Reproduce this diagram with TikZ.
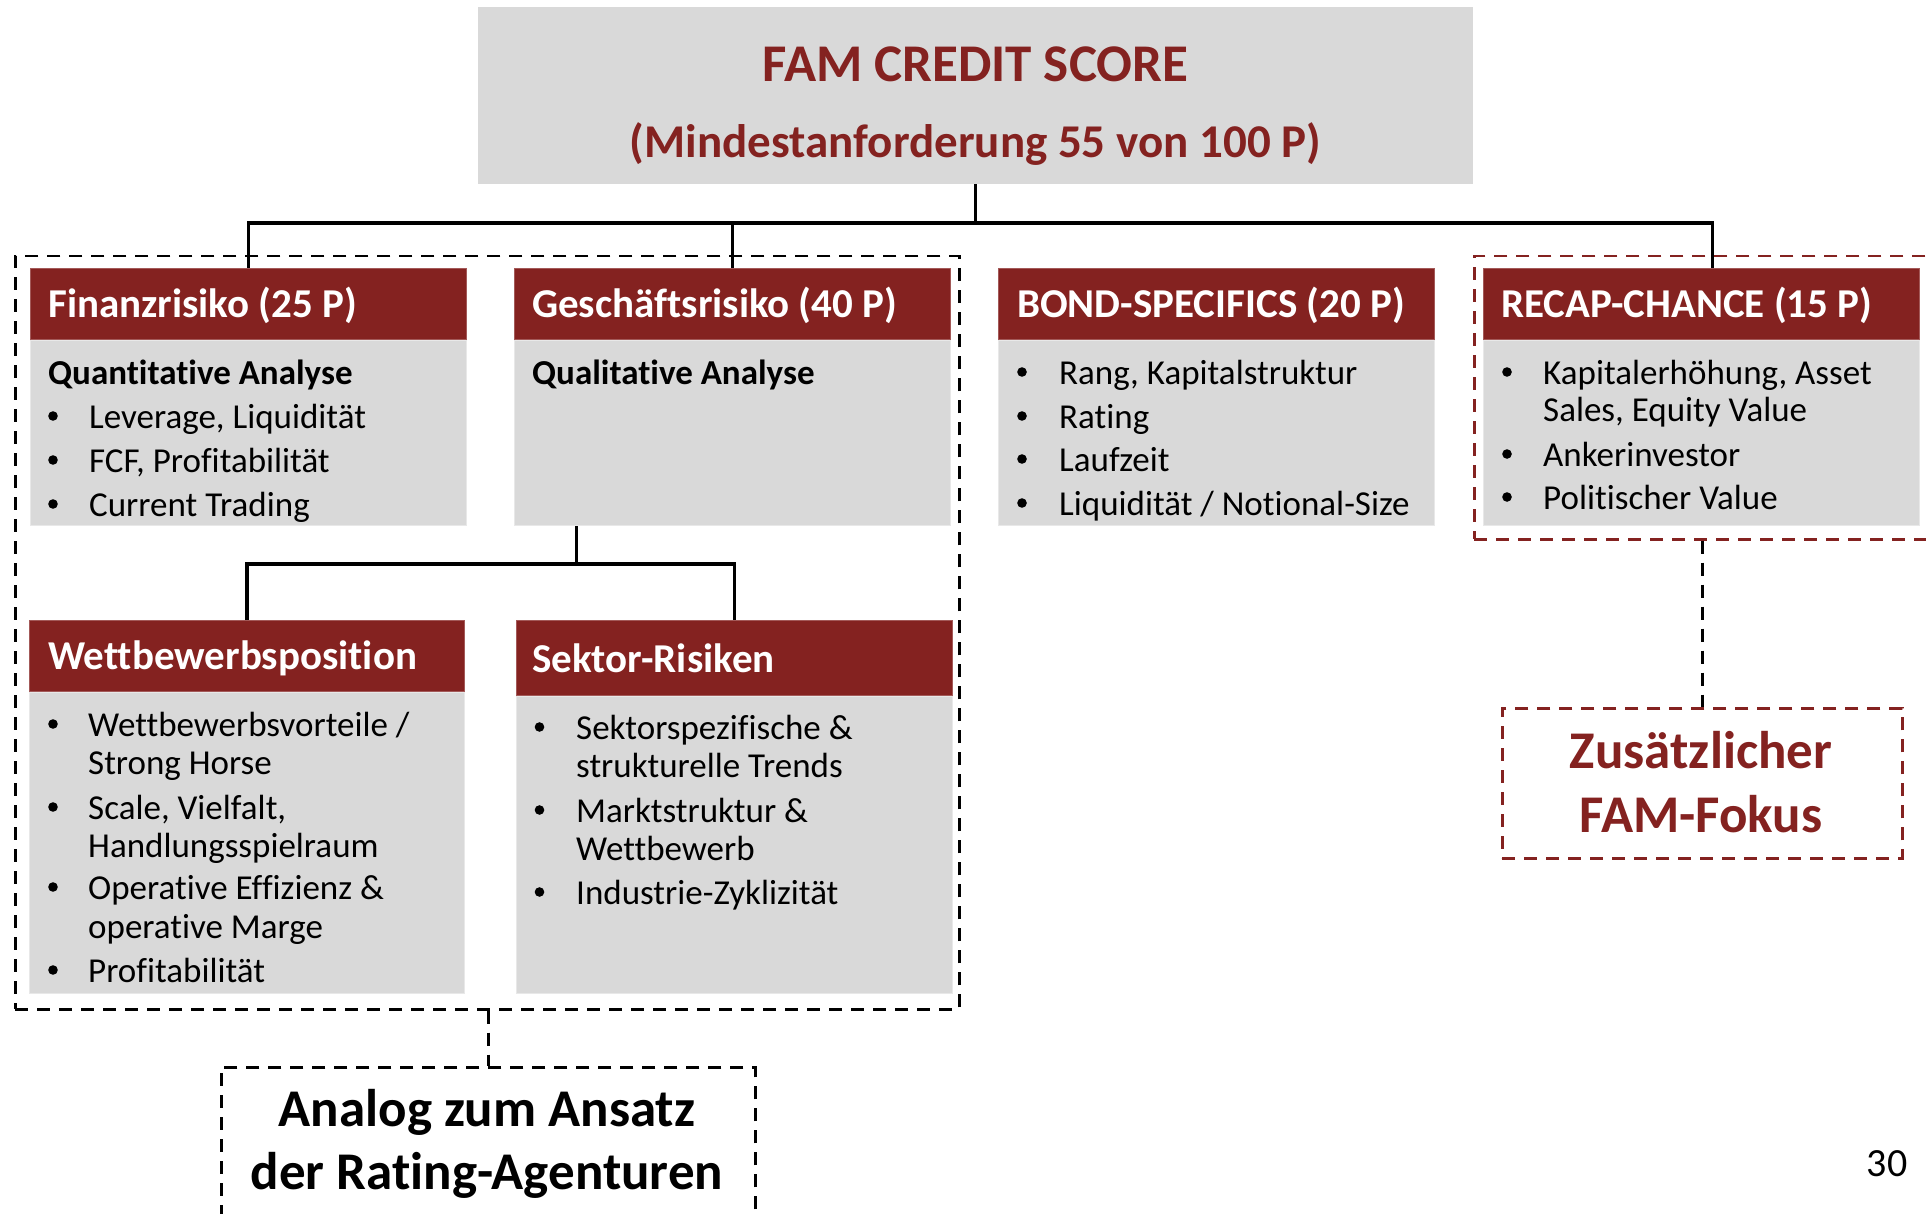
\documentclass[tikz,border=0pt]{standalone}
\usepackage{fontspec}
\setmainfont{Carlito}[Ligatures=NoCommon]
\usetikzlibrary{positioning}

\definecolor{famred}{RGB}{132,34,32}
\definecolor{boxgray}{RGB}{217,217,217}

\tikzset{
  head/.style={fill=famred, draw=famred!75!white, line width=1pt, anchor=north west,
    minimum width=436pt, minimum height=71pt, inner sep=0pt},
  body/.style={fill=boxgray, draw=boxgray!60!white, line width=1pt,
    minimum width=436pt, inner sep=0pt},
  headtxt/.style={anchor=base west, inner sep=0pt, text=white,
    font=\fontsize{41}{49}\selectfont\bfseries},
  item/.style={anchor=base west, inner sep=0pt, font=\fontsize{35}{42}\selectfont},
  big/.style={anchor=base, inner sep=0pt, font=\fontsize{53}{63}\selectfont\bfseries},
  conn/.style={line width=3.5pt},
  grp/.style={draw, dashed, dash pattern=on 13pt off 9pt, line width=2.5pt,
    anchor=north west, inner sep=0pt},
  dashline/.style={dashed, dash pattern=on 13pt off 9pt, line width=2.5pt}
}

\begin{document}
\begin{tikzpicture}[x=1pt,y=-1pt]
\useasboundingbox (0,0) rectangle (1926,1214);
\clip (0,0) rectangle (1926,1214);

% dashed frames behind the boxes
\node[grp, minimum width=944pt, minimum height=753pt] (leftgrp) at (14,255) {};
\node[grp, draw=famred, minimum width=480pt, minimum height=283pt] (recapgrp) at (1473,255) {};

% score box
\node[fill=boxgray, anchor=north west, minimum width=995pt, minimum height=177pt, inner sep=0pt] (title) at (478,7) {};
\node[big, text=famred] (title1) at (975.5,82) {FAM CREDIT SCORE};
\node[big, text=famred, font=\fontsize{47}{56}\selectfont\bfseries] (title2) at (975.5,158) {(Mindestanforderung 55 von 100 P)};

% first row
\node[head] (finH) at (30,268) {};
\node[body, minimum height=185pt, below=0pt of finH] (finB) {};
\node[head] (geschH) at (514,268) {};
\node[body, minimum height=185pt, below=0pt of geschH] (geschB) {};
\node[head] (bondH) at (998,268) {};
\node[body, minimum height=185pt, below=0pt of bondH] (bondB) {};
\node[head] (recapH) at (1483,268) {};
\node[body, minimum height=185pt, below=0pt of recapH] (recapB) {};

% second row
\node[head, minimum width=435pt] (wettH) at (29,620) {};
\node[body, minimum width=435pt, minimum height=301pt, below=0pt of wettH] (wettB) {};
\node[head, minimum height=75pt] (sektorH) at (516,620) {};
\node[body, minimum height=297pt, below=0pt of sektorH] (sektorB) {};

% connectors
\coordinate (bar) at (0,223);
\draw[conn] (title.south) -- (title.south |- bar);
\draw[conn] (finH.north) |- (bar -| title.south) -| ([xshift=11pt]recapH.north);
\draw[conn] (geschH.north) -- (geschH.north |- bar);
\draw[conn] ([xshift=-156pt]geschB.south) -- ++(0,38) coordinate (split);
\draw[conn] (wettH.north) |- (split) -| (sektorH.north);

% headings
\node[headtxt] (finT) at (48,317) {Finanzrisiko (25 P)};
\node[headtxt] (geschT) at (532,317) {Geschäftsrisiko (40 P)};
\node[headtxt] (bondT) at (1017,317) {BOND-SPECIFICS (20 P)};
\node[headtxt] (recapT) at (1501,317) {RECAP-CHANCE (15 P)};
\node[headtxt] (wettT) at (48,669) {Wettbewerbsposition};
\node[headtxt] (sektorT) at (532,672) {Sektor-Risiken};

% lists
\node[item, font=\fontsize{35}{42}\selectfont\bfseries] (finQ) at (48,384) {Quantitative Analyse};
\foreach \yy/\t [count=\i] in {428/{Leverage, Liquidität},472/{FCF, Profitabilität},516/{Current Trading}}
  \node[item] (fin\i) at (89,\yy) {\t};
\foreach \yy in {428,472,516} \fill (53,\yy-12) circle (4.8pt);

\node[item, font=\fontsize{35}{42}\selectfont\bfseries] (geschQ) at (532,384) {Qualitative Analyse};

\foreach \yy/\t [count=\i] in {384/{Rang, Kapitalstruktur},428/{Rating},471/{Laufzeit},515/{Liquidität / Notional-Size}}
  \node[item] (bond\i) at (1059,\yy) {\t};
\foreach \yy in {384,428,471,515} \fill (1022,\yy-12) circle (4.8pt);

\foreach \yy/\t [count=\i] in {384/{Kapitalerhöhung, Asset},421/{Sales, Equity Value},466/{Ankerinvestor},509/{Politischer Value}}
  \node[item] (recap\i) at (1543,\yy) {\t};
\foreach \yy in {384,466,509} \fill (1507,\yy-12) circle (4.8pt);

\foreach \yy/\t [count=\i] in {736/{Wettbewerbsvorteile /},774/{Strong Horse},819/{Scale, Vielfalt,},
    857/{Handlungsspielraum},899/{Operative Effizienz \&},938/{operative Marge},982/{Profitabilität}}
  \node[item] (wett\i) at (88,\yy) {\t};
\foreach \yy in {736,819,899,982} \fill (53,\yy-12) circle (4.8pt);

\foreach \yy/\t [count=\i] in {739/{Sektorspezifische \&},777/{strukturelle Trends},822/{Marktstruktur \&},
    860/{Wettbewerb},904/{Industrie-Zyklizität}}
  \node[item] (sektor\i) at (576,\yy) {\t};
\foreach \yy in {739,822,904} \fill (539.5,\yy-12) circle (4.8pt);

% notes below
\node[grp, minimum width=400pt, minimum height=150pt, draw=famred] (zus) at (1501,707) {};
\node[big, text=famred] (zus1) at (1701,768) {Zusätzlicher};
\node[big, text=famred] (zus2) at (1701,832) {FAM-Fokus};
\draw[dashline] (zus.north |- recapgrp.south) -- (zus.north);

\node[grp, minimum width=534pt, minimum height=180pt] (analog) at (220,1066) {};
\node[big] (analog1) at (487,1126) {Analog zum Ansatz};
\node[big] (analog2) at (487,1189) {der Rating-Agenturen};
\draw[dashline] (analog.north |- leftgrp.south) -- (analog.north);

\node[anchor=base, inner sep=0pt, font=\fontsize{40}{48}\selectfont] (page) at (1887,1176) {30};
\end{tikzpicture}
\end{document}
